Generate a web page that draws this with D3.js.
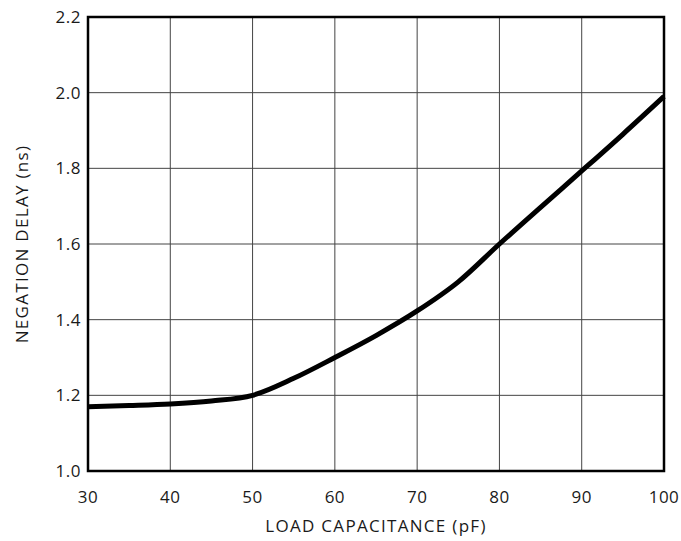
<!DOCTYPE html>
<html>
<head>
<meta charset="utf-8">
<script src="https://cdn.jsdelivr.net/npm/d3@7"></script>
<style>
  body { margin: 0; background: #fff; }
  svg text { font-family: "Open Sans", sans-serif; fill: #1a1a1a; }
</style>
</head>
<body>
<script>
// load capacitance (pF) vs negation delay (ns)
const capacitance = [30, 35, 40, 45, 50, 55, 60, 65, 70, 75, 80, 85, 90, 95, 100];
const delay = [1.17, 1.173, 1.177, 1.185, 1.2, 1.245, 1.3, 1.358, 1.423, 1.5, 1.6, 1.697, 1.793, 1.89, 1.99];
const xTicks = [30, 40, 50, 60, 70, 80, 90, 100];
const yTicks = [1.0, 1.2, 1.4, 1.6, 1.8, 2.0, 2.2];

const width = 681, height = 541;
const plotLeft = 88, plotRight = 664, plotTop = 17, plotBottom = 471;

const svg = d3.select("body").append("svg")
  .attr("width", width)
  .attr("height", height);

const x = d3.scaleLinear().domain([30, 100]).range([plotLeft, plotRight]);
const y = d3.scaleLinear().domain([1.0, 2.2]).range([plotBottom, plotTop]);

// grid
svg.append("g")
  .selectAll("line")
  .data(xTicks.slice(1, -1))
  .join("line")
  .attr("x1", d => x(d)).attr("x2", d => x(d))
  .attr("y1", plotTop).attr("y2", plotBottom)
  .attr("stroke", "#444").attr("stroke-width", 1);

svg.append("g")
  .selectAll("line")
  .data(yTicks.slice(1, -1))
  .join("line")
  .attr("x1", plotLeft).attr("x2", plotRight)
  .attr("y1", d => y(d)).attr("y2", d => y(d))
  .attr("stroke", "#444").attr("stroke-width", 1);

// frame
svg.append("rect")
  .attr("x", plotLeft).attr("y", plotTop)
  .attr("width", plotRight - plotLeft).attr("height", plotBottom - plotTop)
  .attr("fill", "none").attr("stroke", "#000").attr("stroke-width", 2.5);

// tick labels
svg.append("g")
  .selectAll("text")
  .data(xTicks)
  .join("text")
  .attr("x", d => x(d))
  .attr("y", 503)
  .attr("text-anchor", "middle")
  .attr("font-size", 17)
  .attr("letter-spacing", 0.5)
  .text(d => d);

svg.append("g")
  .selectAll("text")
  .data(yTicks)
  .join("text")
  .attr("x", 81)
  .attr("y", d => y(d) + 6)
  .attr("text-anchor", "end")
  .attr("font-size", 17)
  .attr("letter-spacing", 0.5)
  .text(d => d.toFixed(1));

// axis titles
svg.append("text")
  .attr("x", (plotLeft + plotRight) / 2)
  .attr("y", 532)
  .attr("text-anchor", "middle")
  .attr("font-size", 17)
  .attr("letter-spacing", 1.3)
  .text("LOAD CAPACITANCE (pF)");

svg.append("text")
  .attr("transform", `translate(28, ${(plotTop + plotBottom) / 2}) rotate(-90)`)
  .attr("text-anchor", "middle")
  .attr("font-size", 17)
  .attr("letter-spacing", 1.3)
  .text("NEGATION DELAY (ns)");

// curve
const line = d3.line()
  .x((d, i) => x(capacitance[i]))
  .y(d => y(d))
  .curve(d3.curveMonotoneX);

svg.append("path")
  .datum(delay)
  .attr("d", line)
  .attr("fill", "none")
  .attr("stroke", "#000")
  .attr("stroke-width", 5)
  .attr("stroke-linejoin", "round");
</script>
</body>
</html>
